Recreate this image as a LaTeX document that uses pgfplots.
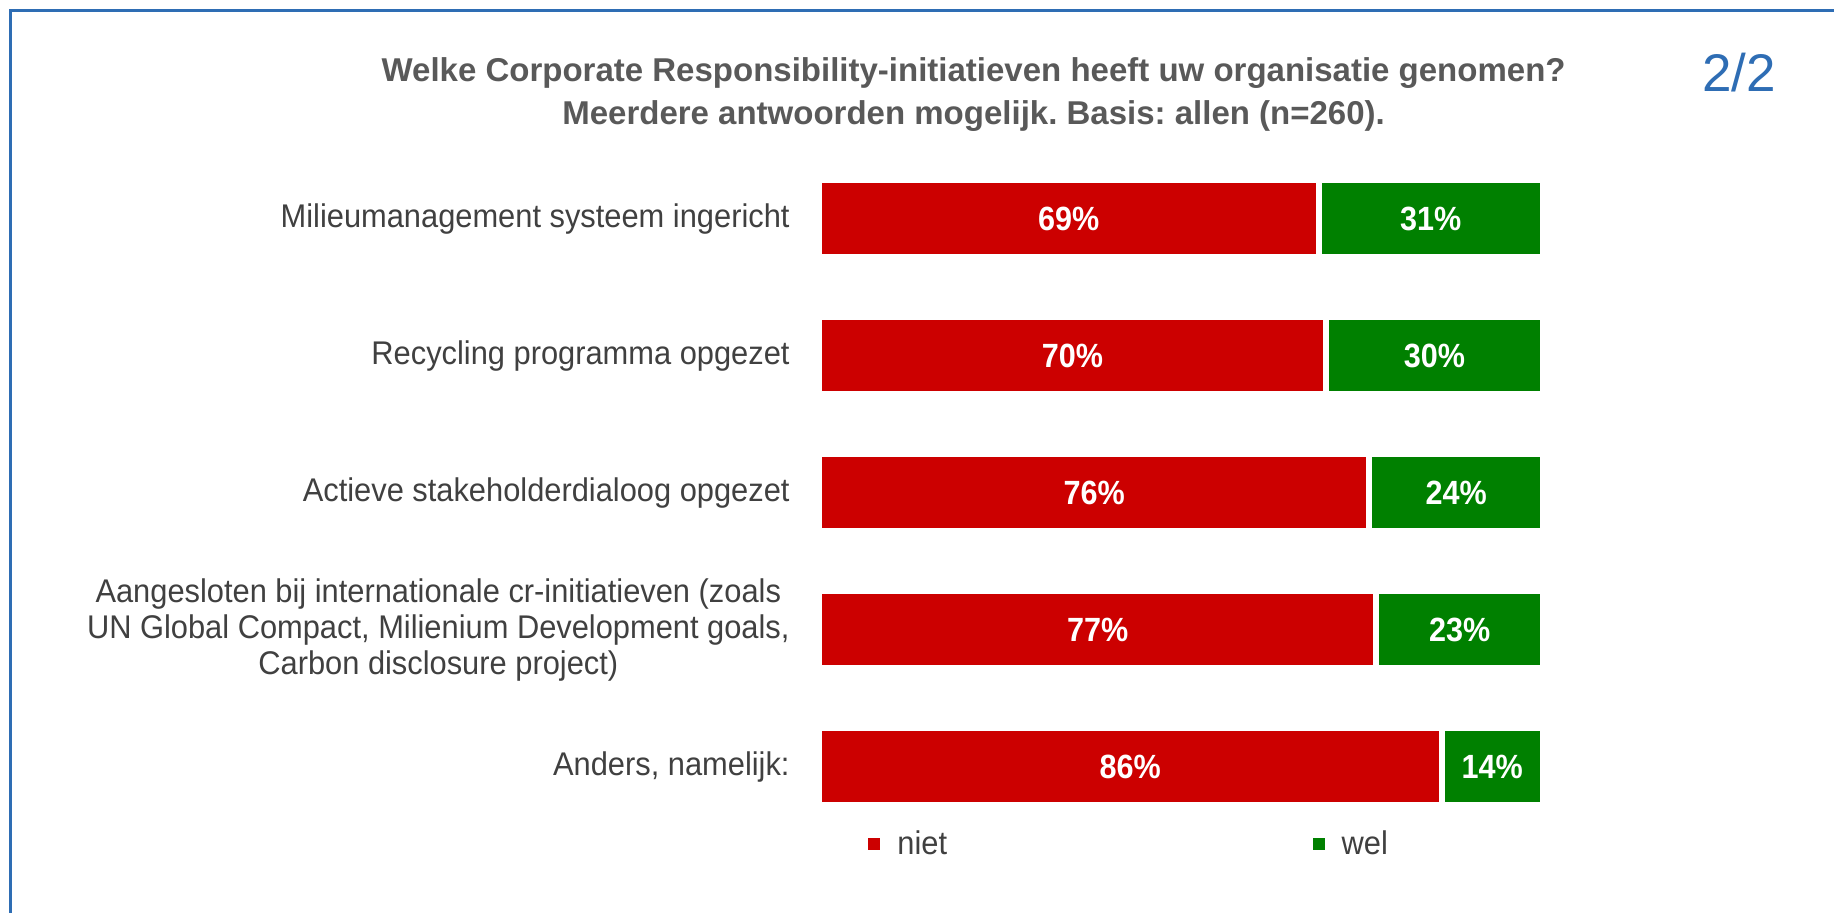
\documentclass[border=0pt]{standalone}
\usepackage{fontspec}
\setmainfont{Liberation Sans}
\newfontfamily\labfont{Liberation Sans}[FakeStretch=0.94]
\newfontfamily\pctfont{Liberation Sans}[FakeStretch=0.91]
\usepackage{pgfplots}
\pgfplotsset{compat=1.18}
\frenchspacing

\definecolor{nietred}{HTML}{CC0000}
\definecolor{welgreen}{HTML}{008000}
\definecolor{titlegray}{HTML}{595959}
\definecolor{labelgray}{HTML}{404040}
\definecolor{frameblue}{HTML}{2E6DB4}

% share of respondents per initiative (row 0 = top)
\pgfplotstableread{
idx niet wel
0   69   31
1   70   30
2   76   24
3   77   23
4   86   14
}\crdata

\begin{document}
\begin{tikzpicture}
\path[use as bounding box] (0,0) rectangle (917pt,-456.5pt);
\draw[frameblue, line width=1.5pt] (5pt,-456.5pt) -- (5pt,-5.5pt) -- (917pt,-5.5pt);

\node[anchor=base, text=titlegray, font=\fontsize{16.5}{20}\selectfont\bfseries]
  at (486.8pt,-41pt) {Welke Corporate Responsibility-initiatieven heeft uw organisatie genomen?};
\node[anchor=base, text=titlegray, font=\fontsize{16.5}{20}\selectfont\bfseries]
  at (486.8pt,-62.5pt) {Meerdere antwoorden mogelijk. Basis: allen (n=260).};
\node[anchor=base, text=frameblue, font=\fontsize{26.5}{30}\selectfont]
  at (869.5pt,-46pt) {2/2};

\begin{axis}[
  at={(409.5pt,-417.6pt)}, anchor=south west,
  scale only axis, width=362pt, height=342.5pt,
  xbar stacked, bar width=38.5pt,
  xmin=0, xmax=100, ymin=-0.5, ymax=4.5,
  y dir=reverse, clip=false,
  axis line style={draw=none},
  major tick length=0pt,
  xtick=\empty,
  ytick={0,1,2,3,4},
  yticklabels={
    {Milieumanagement systeem ingericht},
    {Recycling programma opgezet},
    {Actieve stakeholderdialoog opgezet},
    {Aangesloten bij internationale cr-initiatieven (zoals\\UN Global Compact, Milienium Development goals,\\Carbon disclosure project)},
    {Anders, namelijk:}},
  yticklabel style={font=\labfont\fontsize{16.4}{18}\selectfont, text=labelgray,
    align=center, anchor=east, inner sep=0pt, xshift=-14.5pt},
  visualization depends on={rawx \as \rawx},
  nodes near coords={\pgfmathprintnumber[fixed,precision=0,assume math mode=true]{\rawx}\%},
  every node near coord/.append style={anchor=center, text=white,
    font=\pctfont\bfseries\fontsize{16.8}{18}\selectfont},
  legend columns=2,
  legend style={draw=none, fill=none, inner sep=0pt,
    at={(0.0677,-0.013)}, anchor=west,
    font=\labfont\fontsize{16.4}{18}\selectfont, text=labelgray,
    /tikz/every odd column/.append style={column sep=6.5pt},
    /tikz/every even column/.append style={column sep=180.8pt}},
  legend image code/.code={\fill[#1, draw=none] (0pt,-3pt) rectangle (6pt,3pt);},
]
\addplot[fill=nietred, draw=white, line width=3pt] table[x=niet, y=idx] {\crdata};
\addplot[fill=welgreen, draw=white, line width=3pt] table[x=wel, y=idx] {\crdata};
\legend{niet, wel}
\end{axis}
\end{tikzpicture}
\end{document}
